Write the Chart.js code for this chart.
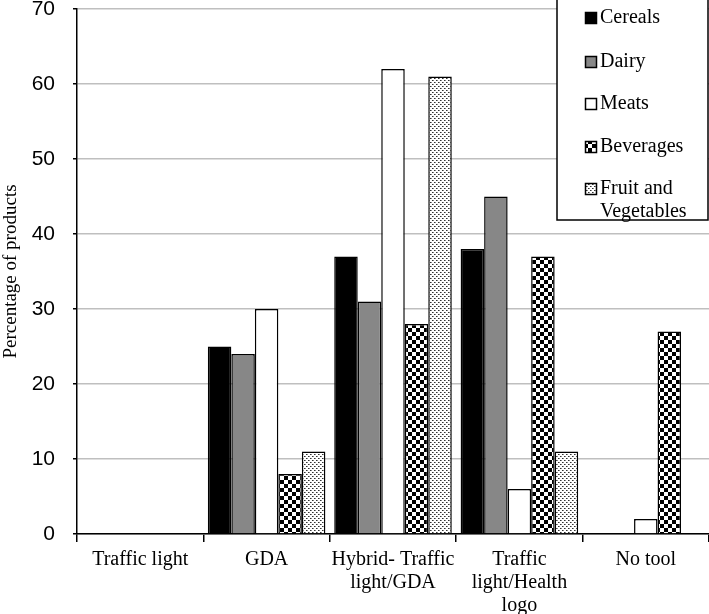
<!DOCTYPE html>
<html>
<head>
<meta charset="utf-8">
<script src="https://cdn.jsdelivr.net/npm/chart.js@4/dist/chart.umd.min.js"></script>
<style>
  html, body { margin: 0; padding: 0; background: #fff; }
  #wrap { width: 709px; height: 614px; position: relative; }
</style>
</head>
<body>
<div id="wrap"><canvas id="myChart"></canvas></div>
<script>
// data
let categories = [["Traffic light"], ["GDA"], ["Hybrid- Traffic", "light/GDA"], ["Traffic", "light/Health", "logo"], ["No tool"]];
let seriesNames = ["Cereals", "Dairy", "Meats", "Beverages", "Fruit and Vegetables"];
let cereals = [0, 25, 37, 38, 0];
let dairy = [0, 24, 31, 45, 0];
let meats = [0, 30, 62, 6, 2];
let beverages = [0, 8, 28, 37, 27];
let fruitVeg = [0, 11, 61, 11, 0];
let yTicks = [0, 10, 20, 30, 40, 50, 60, 70];

function checkerPattern() {
    let c = document.createElement('canvas');
    c.width = 8; c.height = 8;
    let g = c.getContext('2d');
    g.fillStyle = '#fff';
    g.fillRect(0, 0, 8, 8);
    g.fillStyle = '#000';
    g.fillRect(0, 0, 4, 4);
    g.fillRect(4, 4, 4, 4);
    return g.createPattern(c, 'repeat');
}

function dotPattern() {
    let c = document.createElement('canvas');
    c.width = 4; c.height = 4;
    let g = c.getContext('2d');
    g.fillStyle = '#fff';
    g.fillRect(0, 0, 4, 4);
    g.fillStyle = '#333';
    g.fillRect(0, 0, 1, 1);
    g.fillRect(2, 2, 1, 1);
    g.fillStyle = '#888';
    g.fillRect(1, 0, 1, 1);
    g.fillRect(3, 2, 1, 1);
    return g.createPattern(c, 'repeat');
}

let fills = ['#000000', '#878787', '#ffffff', checkerPattern(), dotPattern()];
let values = [cereals, dairy, meats, beverages, fruitVeg];
let serif = '"Liberation Serif", "Times New Roman", serif';

// legend box drawn in the top right corner, like the original figure
const boxLegend = {
    id: 'boxLegend',
    afterDraw(chart) {
        let ctx = chart.ctx;
        let x0 = 557, y0 = -1, w = 151, h = 221;
        ctx.save();
        ctx.fillStyle = '#fff';
        ctx.fillRect(x0, y0, w, h);
        ctx.strokeStyle = '#000';
        ctx.lineWidth = 1.5;
        ctx.strokeRect(x0, y0, w, h);
        ctx.font = '20px ' + serif;
        ctx.textBaseline = 'middle';
        let rows = [18, 62, 104, 147, 189];
        chart.data.datasets.forEach((ds, i) => {
            let y = rows[i];
            ctx.fillStyle = ds.backgroundColor;
            ctx.fillRect(585, y - 6, 12, 12);
            ctx.strokeStyle = '#000';
            ctx.lineWidth = 1.5;
            ctx.strokeRect(585.5, y - 5.5, 11, 11);
            ctx.fillStyle = '#000';
            let words = ds.label === 'Fruit and Vegetables' ? ['Fruit and', 'Vegetables'] : [ds.label];
            words.forEach((t, k) => ctx.fillText(t, 600, y + k * 23));
        });
        ctx.restore();
    }
};

let ctx = document.getElementById('myChart');
let myChart = new Chart(ctx, {
    type: 'bar',
    data: {
        labels: categories,
        datasets: seriesNames.map((name, i) => ({
            label: name,
            data: values[i],
            backgroundColor: fills[i],
            borderColor: '#000',
            borderWidth: 1.5,
            categoryPercentage: 0.93,
            barPercentage: 1.0
        }))
    },
    options: {
        responsive: true,
        maintainAspectRatio: false,
        animation: false,
        layout: { padding: { top: 9, right: 0, left: 0, bottom: 0 } },
        plugins: {
            legend: { display: false },
            tooltip: { enabled: false }
        },
        scales: {
            x: {
                offset: true,
                grid: {
                    display: true,
                    offset: true,
                    drawOnChartArea: false,
                    color: '#000',
                    tickLength: 8,
                    lineWidth: 1.5
                },
                border: { color: '#000', width: 1.5 },
                ticks: {
                    color: '#000',
                    padding: 6,
                    maxRotation: 0,
                    autoSkip: false,
                    font: { family: serif, size: 20, lineHeight: 1.15 }
                },
                afterFit(scale) { scale.height = 80; }
            },
            y: {
                min: 0,
                max: 70,
                afterBuildTicks(scale) { scale.ticks = yTicks.map(v => ({ value: v })); },
                grid: {
                    color: '#bfbfbf',
                    lineWidth: 1.5,
                    tickColor: '#000',
                    tickLength: 22,
                    // only the last few px next to the axis are drawn as the tick mark
                    tickBorderDash: [0, 18, 4, 100]
                },
                border: { color: '#000', width: 1.5 },
                ticks: {
                    color: '#000',
                    padding: 0,
                    font: { family: '"Liberation Sans", Arial, sans-serif', size: 21, lineHeight: 0.2 }
                },
                title: {
                    display: true,
                    text: 'Percentage of products',
                    color: '#000',
                    padding: 0,
                    font: { family: serif, size: 19 }
                },
                afterFit(scale) { scale.width = 77; }
            }
        }
    },
    plugins: [boxLegend]
});
</script>
</body>
</html>
